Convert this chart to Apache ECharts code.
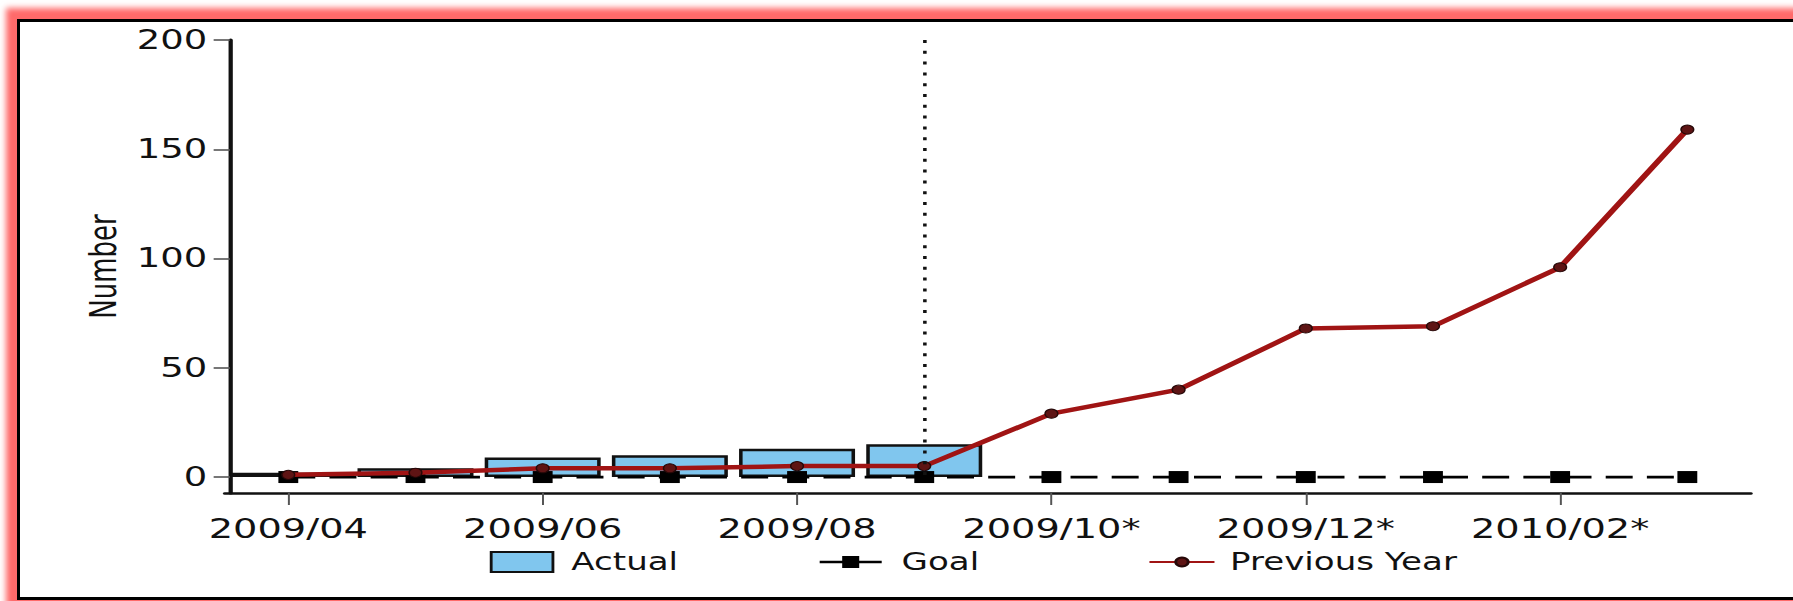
<!DOCTYPE html>
<html>
<head>
<meta charset="utf-8">
<title>Number by month</title>
<script src="https://cdn.jsdelivr.net/npm/echarts@6/dist/echarts.min.js"></script>
<style>
  html, body { margin: 0; padding: 0; background: #fff; overflow: hidden; }
  body { width: 1793px; height: 601px; position: relative; }
  /* glowing red frame with a thin black inner edge */
  #frame {
    position: absolute; left: 17px; top: 19px;
    width: 1820px; height: 575px;
    border-left: 3px solid #000; border-top: 3px solid #000; border-bottom: 3px solid #000;
    box-shadow: 0 0 6px 11px #ff6a6a;
    background: #fff;
  }
  /* the chart is laid out narrow and widened horizontally, like the wide bitmap font look */
  #chart {
    position: absolute; left: 0; top: 0;
    width: 1263px; height: 601px;
    transform: scaleX(1.4196); transform-origin: 0 0;
  }
</style>
</head>
<body>
<div id="frame"></div>
<div id="chart"></div>
<script>
// Monthly data (months marked * are forecast months)
const categories = ['2009/04', '2009/05', '2009/06', '2009/07', '2009/08', '2009/09',
                    '2009/10*', '2009/11*', '2009/12*', '2010/01*', '2010/02*', '2010/03*'];
const actual = [2, 4, 9, 10, 13, 15, null, null, null, null, null, null];
const goal = [0, 0, 0, 0, 0, 0, 0, 0, 0, 0, 0, 0];
const previousYear = [1, 2, 4, 4, 5, 5, 29, 40, 68, 69, 96, 159];
const yTicks = [0, 50, 100, 150, 200];
const currentMonth = '2009/09';

const FONT = '"DejaVu Sans", Verdana, sans-serif';
const TEXT = '#111';

const chart = echarts.init(document.getElementById('chart'), null, { renderer: 'svg' });

const legendBase = {
  top: 549,
  padding: 0,
  orient: 'horizontal',
  selectedMode: false,
  textStyle: { fontFamily: FONT, fontSize: 24, color: TEXT, lineHeight: 26 }
};

chart.setOption({
  animation: false,
  backgroundColor: 'transparent',
  grid: { left: 158.3, right: 29.6, top: 40, bottom: 108 },
  legend: [
    Object.assign({}, legendBase, {
      data: ['Actual'], left: 345, itemWidth: 43.5, itemHeight: 20, icon: 'rect',
      textStyle: Object.assign({}, legendBase.textStyle, { padding: [0, 0, 0, 8] })
    }),
    Object.assign({}, legendBase, {
      data: ['Goal'], left: 576.2, itemWidth: 43.7, itemHeight: 15,
      lineStyle: { type: 'solid', width: 2.4 },
      textStyle: Object.assign({}, legendBase.textStyle, { padding: [0, 0, 0, 9] })
    }),
    Object.assign({}, legendBase, {
      data: ['Previous Year'], left: 808.7, itemWidth: 45.8, itemHeight: 11,
      textStyle: Object.assign({}, legendBase.textStyle, { padding: [0, 0, 0, 6] })
    })
  ],
  xAxis: {
    type: 'category',
    data: categories,
    boundaryGap: true,
    axisLine: { show: true, onZero: false, lineStyle: { color: '#111', width: 2.5 } },
    axisTick: { show: true, alignWithLabel: true, interval: 1, length: 12,
                lineStyle: { color: '#555', width: 1.4 } },
    axisLabel: { interval: 1, fontFamily: FONT, fontSize: 27, color: TEXT, margin: 22 },
    splitLine: { show: false }
  },
  yAxis: {
    type: 'value',
    min: -7.3,
    max: 200,
    offset: -3.7,
    name: 'Number',
    nameLocation: 'middle',
    nameGap: 72,
    nameTextStyle: { fontFamily: FONT, fontSize: 26, color: TEXT },
    axisLine: { show: true, lineStyle: { color: '#111', width: 3 } },
    axisTick: { show: true, length: 11.5, customValues: yTicks,
                lineStyle: { color: '#555', width: 1.6 } },
    axisLabel: { customValues: yTicks, fontFamily: FONT, fontSize: 26, color: TEXT, margin: 16 },
    splitLine: { show: false }
  },
  series: [
    {
      name: 'Actual',
      type: 'bar',
      data: actual,
      barCategoryGap: '8.8%',
      itemStyle: { color: '#80C6EE', borderColor: '#111', borderWidth: 2.5 },
      z: 2
    },
    {
      name: 'Goal',
      type: 'line',
      data: goal,
      symbol: 'rect',
      symbolSize: [14, 12],
      itemStyle: { color: '#000' },
      lineStyle: { color: '#000', width: 2.8, type: [19, 10] },
      z: 3,
      markLine: {
        silent: true,
        symbol: ['none', 'none'],
        label: { show: false },
        lineStyle: { color: '#111', width: 2.5, type: [3, 7.8] },
        data: [[{ xAxis: currentMonth, yAxis: 200 }, { xAxis: currentMonth, yAxis: 0 }]]
      }
    },
    {
      name: 'Previous Year',
      type: 'line',
      data: previousYear,
      symbol: 'circle',
      symbolSize: 9,
      itemStyle: { color: '#5e1414', borderColor: '#260808', borderWidth: 1 },
      lineStyle: { color: '#a01414', width: 4.5 },
      z: 4
    }
  ]
});
</script>
</body>
</html>
